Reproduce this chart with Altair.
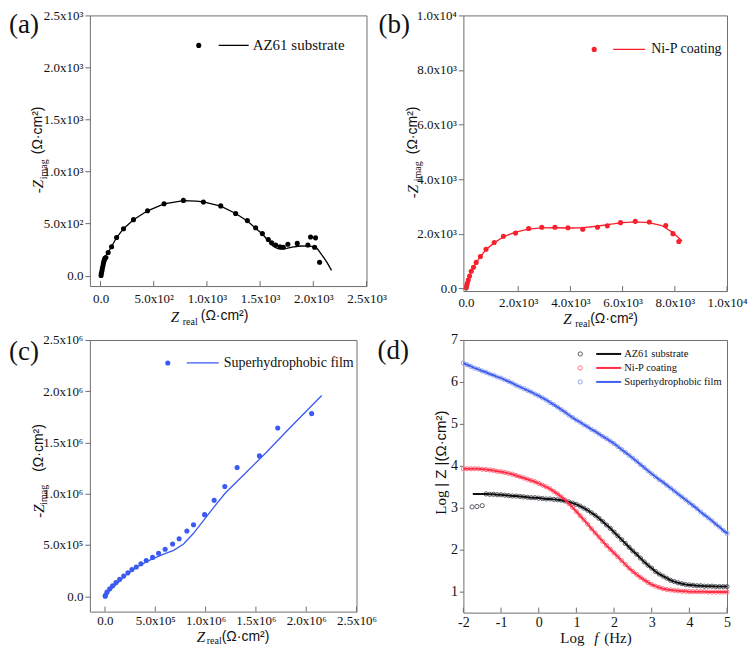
import json
import altair as alt
import pandas as pd

SERIF = "Liberation Serif"
SANS = "Liberation Sans"
FRAME = "#6e6e6e"
INK = "#111111"

# ---------------- (a) AZ61 substrate, Nyquist ----------------
a_name = "AZ61 substrate"
a_zreal = [5, 8, 13, 17, 22, 27, 31, 36, 41, 50, 72, 104, 151, 216, 310, 442, 597, 779, 967, 1130,
           1270, 1380, 1458, 1521, 1577, 1608, 1646, 1686, 1718, 1761, 1849, 1949, 1974, 2021, 2012, 2059]
a_zimag = [2, 22, 45, 69, 92, 116, 135, 153, 167, 175, 222, 278, 366, 451, 538, 623, 691, 723, 707, 670,
           597, 529, 460, 404, 348, 316, 294, 278, 273, 301, 310, 294, 372, 363, 273, 128]
a_fit_zreal = [10, 14, 20, 30, 45, 72, 104, 151, 216, 310, 442, 597, 779, 900, 967, 1130, 1270, 1380, 1458, 1521,
               1577, 1620, 1660, 1693, 1750, 1800, 1880, 1950, 2005, 2040, 2068, 2100, 2131, 2171]
a_fit_zimag = [0, 60, 110, 150, 185, 225, 280, 366, 451, 538, 623, 690, 720, 716, 708, 668, 597, 525, 455, 400,
               335, 285, 262, 255, 262, 275, 285, 284, 278, 255, 216, 170, 122, 50]
a_ticks = [0, 500, 1000, 1500, 2000, 2500]
a_tick_labels = ["0.0", "5.0x10²", "1.0x10³", "1.5x10³", "2.0x10³", "2.5x10³"]
a_domain = [-100, 2500]

# ---------------- (b) Ni-P coating, Nyquist ----------------
b_name = "Ni-P coating"
b_zreal = [13, 26, 51, 88, 137, 202, 288, 390, 552, 767, 1080, 1434, 1898, 2399, 2904, 3405, 3906, 4472,
           5037, 5414, 5919, 6484, 7023, 7653, 7928, 8154]
b_zimag = [18, 90, 187, 305, 448, 627, 770, 950, 1164, 1430, 1680, 1906, 2024, 2192, 2239, 2239, 2218, 2167,
           2239, 2289, 2407, 2454, 2432, 2300, 2003, 1716]
b_fit_zreal = [0, 13, 26, 51, 88, 137, 202, 288, 390, 552, 767, 1080, 1434, 1898, 2400, 2900, 3400, 3900,
               4400, 5000, 5500, 6000, 6500, 7000, 7500, 7900, 8279]
b_fit_zimag = [0, 18, 90, 187, 305, 448, 620, 770, 945, 1160, 1420, 1665, 1890, 2060, 2170, 2215, 2220, 2210,
               2215, 2275, 2345, 2405, 2435, 2405, 2300, 2060, 1738]
b_ticks = [0, 2000, 4000, 6000, 8000, 10000]
b_tick_labels = ["0.0", "2.0x10³", "4.0x10³", "6.0x10³", "8.0x10³", "1.0x10⁴"]
b_domain = [-100, 10000]

# ---------------- (c) Superhydrophobic film, Nyquist ----------------
c_name = "Superhydrophobic film"
c_zreal = [2e3, 5e3, 20e3, 47e3, 76e3, 109e3, 146e3, 186e3, 228e3, 268e3, 311e3, 357e3, 410e3, 473e3,
           533e3, 598e3, 672e3, 737e3, 814e3, 880e3, 990e3, 1085e3, 1191e3, 1313e3, 1535e3, 1717e3, 2054e3]
c_zimag = [1e3, 9e3, 40e3, 72e3, 103e3, 134e3, 166e3, 197e3, 228e3, 260e3, 285e3, 317e3, 348e3, 379e3,
           420e3, 458e3, 510e3, 561e3, 636e3, 698e3, 796e3, 937e3, 1071e3, 1256e3, 1369e3, 1641e3, 1782e3]
c_fit_zreal = [0, 20e3, 119e3, 218e3, 318e3, 450e3, 583e3, 682e3, 781e3, 880e3, 980e3, 1079e3, 1194e3,
               1400e3, 1600e3, 1800e3, 2000e3, 2154e3]
c_fit_zimag = [0, 28e3, 122e3, 216e3, 285e3, 354e3, 411e3, 448e3, 510e3, 614e3, 740e3, 864e3, 1005e3,
               1205e3, 1400e3, 1605e3, 1805e3, 1958e3]
c_ticks = [0, 500000, 1000000, 1500000, 2000000, 2500000]
c_tick_labels = ["0.0", "5.0x10⁵", "1.0x10⁶", "1.5x10⁶", "2.0x10⁶", "2.5x10⁶"]
c_domain = [-150000, 2500000]

# ---------------- (d) Bode |Z| ----------------
d_logf = [-2.0, -1.9, -1.8, -1.7, -1.6, -1.5, -1.4, -1.3, -1.2, -1.1, -1.0, -0.9, -0.8, -0.7, -0.6, -0.5,
          -0.4, -0.3, -0.2, -0.1, 0.0, 0.1, 0.2, 0.3, 0.4, 0.5, 0.6, 0.7, 0.8, 0.9, 1.0, 1.1, 1.2, 1.3, 1.4,
          1.5, 1.6, 1.7, 1.8, 1.9, 2.0, 2.1, 2.2, 2.3, 2.4, 2.5, 2.6, 2.7, 2.8, 2.9, 3.0, 3.1, 3.2, 3.3, 3.4,
          3.5, 3.6, 3.7, 3.8, 3.9, 4.0, 4.1, 4.2, 4.3, 4.4, 4.5, 4.6, 4.7, 4.8, 4.9, 5.0]
d_film = [6.45, 6.41, 6.37, 6.33, 6.30, 6.26, 6.23, 6.19, 6.16, 6.12, 6.09, 6.05, 6.01, 5.97, 5.92, 5.88,
          5.84, 5.80, 5.76, 5.71, 5.67, 5.62, 5.57, 5.51, 5.46, 5.40, 5.34, 5.28, 5.21, 5.15, 5.09, 5.04,
          4.98, 4.93, 4.87, 4.82, 4.76, 4.70, 4.65, 4.59, 4.53, 4.46, 4.39, 4.32, 4.25, 4.18, 4.11, 4.03,
          3.96, 3.88, 3.81, 3.74, 3.67, 3.61, 3.54, 3.47, 3.40, 3.33, 3.26, 3.19, 3.12, 3.05, 2.98, 2.90,
          2.83, 2.76, 2.69, 2.61, 2.54, 2.46, 2.39]
d_nip = [3.93, 3.93, 3.93, 3.93, 3.93, 3.92, 3.91, 3.90, 3.89, 3.87, 3.86, 3.84, 3.82, 3.80, 3.77, 3.74,
         3.71, 3.68, 3.65, 3.62, 3.58, 3.54, 3.50, 3.45, 3.39, 3.33, 3.26, 3.19, 3.10, 3.01, 2.91, 2.81,
         2.71, 2.61, 2.50, 2.40, 2.30, 2.20, 2.10, 2.01, 1.92, 1.83, 1.74, 1.65, 1.56, 1.48, 1.41, 1.34,
         1.28, 1.22, 1.17, 1.13, 1.10, 1.07, 1.05, 1.04, 1.03, 1.02, 1.01, 1.01, 1.00, 1.00, 1.00, 1.00,
         1.00, 0.99, 0.99, 0.99, 0.99, 0.99, 0.99]
d_az_logf = [-1.77, -1.64, -1.50, -1.4, -1.3, -1.2, -1.1, -1.0, -0.9, -0.8, -0.7, -0.6, -0.5, -0.4, -0.3,
             -0.2, -0.1, 0.0, 0.1, 0.2, 0.3, 0.4, 0.5, 0.6, 0.7, 0.8, 0.9, 1.0, 1.1, 1.2, 1.3, 1.4, 1.5,
             1.6, 1.7, 1.8, 1.9, 2.0, 2.1, 2.2, 2.3, 2.4, 2.5, 2.6, 2.7, 2.8, 2.9, 3.0, 3.1, 3.2, 3.3, 3.4,
             3.5, 3.6, 3.7, 3.8, 3.9, 4.0, 4.1, 4.2, 4.3, 4.4, 4.5, 4.6, 4.7, 4.8, 4.9, 5.0]
d_az = [3.02, 3.03, 3.05, 3.33, 3.32, 3.32, 3.31, 3.31, 3.30, 3.29, 3.28, 3.28, 3.27, 3.26, 3.25, 3.24,
        3.24, 3.23, 3.22, 3.21, 3.21, 3.20, 3.19, 3.18, 3.16, 3.14, 3.11, 3.08, 3.04, 2.99, 2.94, 2.88,
        2.82, 2.75, 2.67, 2.59, 2.51, 2.42, 2.33, 2.24, 2.15, 2.06, 1.97, 1.89, 1.80, 1.71, 1.63, 1.56,
        1.48, 1.42, 1.37, 1.32, 1.27, 1.24, 1.21, 1.19, 1.17, 1.16, 1.15, 1.14, 1.14, 1.13, 1.13, 1.13,
        1.12, 1.12, 1.12, 1.12]
d_az_fit_logf = [-1.75] + d_az_logf[3:]
d_az_fit = [3.33] + d_az[3:]
d_xticks = [-2, -1, 0, 1, 2, 3, 4, 5]
d_xtick_labels = ["-2", "-1", "0", "1", "2", "3", "4", "5"]
d_yticks = [1, 2, 3, 4, 5, 6, 7]
d_ytick_labels = ["1", "2", "3", "4", "5", "6", "7"]

RED = "#f8202c"
BLUE = "#3a5af2"


def lexpr(ticks, labels):
    return "%s[indexof(%s, datum.value)]" % (json.dumps(labels, ensure_ascii=False), json.dumps(ticks))


def x_axis(ticks, labels, size, pad):
    return alt.Axis(values=ticks, labelExpr=lexpr(ticks, labels), ticks=False, domain=False, grid=False,
                    labelFont=SERIF, labelFontSize=size, labelColor=INK, labelPadding=pad,
                    labelFlush=False, labelOverlap=False, title=None)


def y_axis(ticks, labels, size, tick):
    return alt.Axis(values=ticks, labelExpr=lexpr(ticks, labels), ticks=True, tickSize=tick,
                    tickColor=FRAME, tickWidth=1, domain=False, grid=False, labelFont=SERIF,
                    labelFontSize=size, labelColor=INK, labelPadding=2, labelFlush=False,
                    labelOverlap=False, title=None)


ONE = pd.DataFrame({"k": [0]})


def txt(s, x, y, size, font=SERIF, style="normal", angle=0):
    return alt.Chart(ONE).mark_text(text=s, font=font, fontSize=size, fontStyle=style, angle=angle,
                                    align="left", baseline="middle", color=INK).encode(
        x=alt.value(x), y=alt.value(y))


def ztitles(ytp, xtp):
    yx, yz, ysx, ysy, yp = ytp
    xz, xzy, xsx, xsy, xp, xpy = xtp
    return [
        txt("-Z", yx, yz, 15, style="italic", angle=270),
        txt("imag", ysx, ysy, 10, angle=270),
        txt("(Ω·cm²)", yx, yp, 14, font=SANS, angle=270),
        txt("Z", xz, xzy, 15, style="italic"),
        txt("real", xsx, xsy, 10),
        txt("(Ω·cm²)", xp, xpy, 14, font=SANS),
    ]


def nyquist(px, py, fx, fy, domain, ticks, labels, color, W, H, name, leg, tag, ytp, xtp, xpad):
    sc = alt.Scale(domain=domain, nice=False, zero=False)
    X = alt.X("x:Q", scale=sc, axis=x_axis(ticks, labels, 13, xpad))
    Y = alt.Y("y:Q", scale=sc, axis=y_axis(ticks, labels, 13, 5))
    fit = alt.Chart(pd.DataFrame({"x": fx, "y": fy, "i": list(range(len(fx)))})).mark_line(
        color=color, strokeWidth=1.3).encode(x=X, y=Y, order="i:Q")
    pts = alt.Chart(pd.DataFrame({"x": px, "y": py})).mark_point(
        shape="circle", filled=True, size=26, color=color, opacity=1).encode(x=X, y=Y)
    tk = alt.Chart(pd.DataFrame({"x": ticks})).mark_rule(color=FRAME, strokeWidth=1).encode(
        x=X, y=alt.value(H - 5), y2=alt.value(H))
    lx, ly, x1, x2, tx, fs = leg
    ldot = alt.Chart(ONE).mark_point(shape="circle", filled=True, size=26, color=color, opacity=1).encode(
        x=alt.value(lx), y=alt.value(ly))
    lline = alt.Chart(ONE).mark_rule(color=color, strokeWidth=1.3).encode(
        x=alt.value(x1), x2=alt.value(x2), y=alt.value(ly))
    ltxt = txt(name, tx, ly, fs)
    tg = txt(tag[0], tag[1], tag[2], 27)
    return alt.layer(fit, pts, tk, ldot, lline, ltxt, tg, *ztitles(ytp, xtp)).properties(width=W, height=H)


Wa, Ha = 277, 271
pa = nyquist(a_zreal, a_zimag, a_fit_zreal, a_fit_zimag, a_domain, a_ticks, a_tick_labels, "#000000",
             Wa, Ha, a_name, (109, 30, 129, 159, 163, 15), ("(a)", -81, 10),
             (-51.5, 178, -46, 164, 139), (81, Ha + 31, 93, Ha + 36, 111, Ha + 30), 6)

Wb, Hb = 264, 276
pb = nyquist(b_zreal, b_zimag, b_fit_zreal, b_fit_zimag, b_domain, b_ticks, b_tick_labels, RED,
             Wb, Hb, b_name, (131, 34, 150, 182, 188, 14), ("(b)", -85, 10),
             (-50, 183, -45, 166, 139), (100, Hb + 28, 112, Hb + 33, 127, Hb + 28), 5)

Wc, Hc = 267, 272
pc = nyquist(c_zreal, c_zimag, c_fit_zreal, c_fit_zimag, c_domain, c_ticks, c_tick_labels, BLUE,
             Wc, Hc, c_name, (78, 23, 97, 129, 134, 14), ("(c)", -81, 12),
             (-51, 178, -46, 165, 132), (107, Hc + 25, 117, Hc + 29, 132, Hc + 25), 3)

# ---------------- panel (d) ----------------
Wd, Hd = 264, 273
sx = alt.Scale(domain=[-2, 5], nice=False, zero=False)
sy = alt.Scale(domain=[0.5, 7], nice=False, zero=False)
XD = alt.X("x:Q", scale=sx, axis=x_axis(d_xticks, d_xtick_labels, 14, 3))
YD = alt.Y("y:Q", scale=sy, axis=y_axis(d_yticks, d_ytick_labels, 14, 4))

series = [
    (a_name, d_az_logf, d_az, d_az_fit_logf, d_az_fit, "#111111", "#5a5d66"),
    (b_name, d_logf, d_nip, d_logf, d_nip, "#ff2d45", "#ff7384"),
    (c_name, d_logf, d_film, d_logf, d_film, "#3f5ff0", "#97a4ee"),
]
d_layers = []
for name, lf, v, flf, fv, lc, cc in series:
    d_layers.append(alt.Chart(pd.DataFrame({"x": lf, "y": v})).mark_point(
        shape="circle", filled=False, size=18, strokeWidth=1, color=cc, opacity=1).encode(x=XD, y=YD))
for name, lf, v, flf, fv, lc, cc in series:
    d_layers.append(alt.Chart(pd.DataFrame({"x": flf, "y": fv, "i": list(range(len(flf)))})).mark_line(
        color=lc, strokeWidth=2).encode(x=XD, y=YD, order="i:Q"))
d_layers.append(alt.Chart(pd.DataFrame({"x": d_xticks})).mark_rule(color=FRAME, strokeWidth=1).encode(
    x=XD, y=alt.value(Hd - 5), y2=alt.value(Hd)))
for k, (name, lf, v, flf, fv, lc, cc) in enumerate(series):
    ly = 14 + 14 * k
    d_layers.append(alt.Chart(ONE).mark_point(shape="circle", filled=False, size=18, strokeWidth=1,
                                              color=cc, opacity=1).encode(x=alt.value(117), y=alt.value(ly)))
    d_layers.append(alt.Chart(ONE).mark_rule(color=lc, strokeWidth=2).encode(
        x=alt.value(133), x2=alt.value(158), y=alt.value(ly)))
    d_layers.append(txt(name, 161, ly, 10.5))
d_layers += [
    txt("(d)", -86, 11, 27),
    txt("Log", -22, 175, 15, angle=270),
    txt("| Z |(Ω·cm²)", -22, 147, 15, font=SANS, angle=270),
    txt("Log", 97, Hd + 25, 15),
    txt("f", 131, Hd + 25, 15, style="italic"),
    txt("(Hz)", 141, Hd + 25, 15),
]
pdd = alt.layer(*d_layers).properties(width=Wd, height=Hd)

chart = alt.concat(pa, pb, pc, pdd, columns=2, spacing={"row": 49, "column": 97}, bounds="flush").properties(
    padding=0, background="white"
).configure_view(stroke=FRAME, strokeWidth=1)

chart.save("out.html", embed_options={"renderer": "svg", "actions": False})
